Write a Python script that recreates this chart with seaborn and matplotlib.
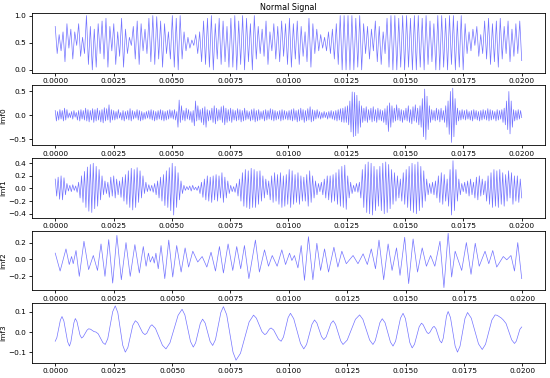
import numpy as np
import matplotlib
matplotlib.use('Agg')
import matplotlib.pyplot as plt
from matplotlib.ticker import MultipleLocator
import seaborn as sns

# ---- data (times in ms) ----
panel_labels = ['', 'imf0', 'imf1', 'imf2', 'imf3']
tick_steps = [0.5, 0.5, 0.2, 0.2, 0.1]
title = 'Normal Signal'

# normalised signal, alternating local maxima / minima, 15 per 2.5 ms
sig_peaks = [0.8, 0.65, 0.7, 0.85, 0.75, 0.7, 0.85, 0.6, 1.0, 0.8, 0.75, 0.85, 0.9, 0.95, 0.8,
             0.85, 0.7, 0.95, 0.75, 0.6, 0.8, 0.9, 0.85, 0.75, 0.95, 1.0, 0.98, 0.9, 0.85, 0.7,
             1.0, 0.95, 1.0, 0.7, 0.6, 0.55, 0.65, 0.7, 0.9, 0.95, 1.0, 0.85, 0.95, 0.9, 0.8,
             0.95, 1.0, 0.9, 1.0, 0.95, 0.85, 1.0, 0.8, 0.75, 0.9, 0.7, 0.85, 0.8, 0.9, 0.85,
             0.95, 0.85, 0.9, 0.8, 0.7, 0.95, 0.85, 0.75, 0.65, 0.6, 0.7, 0.75, 0.85, 1.0, 1.0,
             1.0, 1.0, 0.95, 1.0, 0.85, 0.8, 0.75, 0.9, 0.8, 0.7, 0.95, 1.0, 1.0, 0.95, 1.0,
             1.0, 0.95, 1.0, 1.0, 0.95, 1.0, 0.9, 0.85, 1.0, 1.0, 0.95, 1.0, 1.0, 0.9, 1.0,
             0.85, 0.7, 0.75, 0.8, 0.65, 0.9, 0.95, 0.85, 0.9, 0.95, 0.8, 0.9, 0.75, 0.85, 0.9]
sig_troughs = [0.3, 0.35, 0.15, 0.4, 0.2, 0.45, 0.25, 0.3, 0.1, 0.0, 0.05, 0.3, 0.2, 0.05, 0.35,
               0.1, 0.25, 0.05, 0.3, 0.45, 0.2, 0.1, 0.35, 0.3, 0.15, 0.1, 0.2, 0.05, 0.3, 0.2,
               0.05, 0.0, 0.2, 0.35, 0.4, 0.45, 0.3, 0.15, 0.1, 0.05, 0.0, 0.2, 0.1, 0.15, 0.05,
               0.05, 0.0, 0.1, 0.0, 0.15, 0.0, 0.2, 0.3, 0.25, 0.1, 0.35, 0.2, 0.15, 0.25, 0.1,
               0.05, 0.2, 0.1, 0.25, 0.15, 0.05, 0.3, 0.35, 0.4, 0.35, 0.3, 0.2, 0.1, 0.0, 0.0,
               0.0, 0.0, 0.05, 0.0, 0.3, 0.2, 0.35, 0.15, 0.1, 0.3, 0.05, 0.0, 0.0, 0.05, 0.0,
               0.05, 0.0, 0.0, 0.05, 0.0, 0.1, 0.15, 0.0, 0.0, 0.05, 0.0, 0.1, 0.0, 0.05, 0.0,
               0.3, 0.35, 0.45, 0.25, 0.3, 0.2, 0.1, 0.15, 0.05, 0.2, 0.3, 0.15, 0.25, 0.3, 0.17]

# imf0, 25 maxima / minima per 2.5 ms
imf0_peaks = [0.1, 0.08, 0.12, 0.1, 0.15, 0.12, 0.05, 0.08, 0.1, 0.06, 0.1, 0.12, 0.1, 0.15, 0.12, 0.1, 0.14, 0.12, 0.15, 0.1, 0.12, 0.16, 0.14, 0.22, 0.12,
              0.1, 0.08, 0.12, 0.06, 0.1, 0.08, 0.1, 0.14, 0.1, 0.08, 0.12, 0.1, 0.08, 0.06, 0.08, 0.1, 0.12, 0.1, 0.08, 0.1, 0.12, 0.1, 0.08, 0.1, 0.12,
              0.1, 0.12, 0.08, 0.32, 0.2, 0.1, 0.15, 0.12, 0.08, 0.1, 0.3, 0.2, 0.12, 0.15, 0.18, 0.12, 0.1, 0.15, 0.2, 0.15, 0.12, 0.18, 0.2, 0.15, 0.12,
              0.15, 0.12, 0.1, 0.14, 0.12, 0.1, 0.15, 0.1, 0.08, 0.12, 0.14, 0.1, 0.12, 0.08, 0.1, 0.12, 0.1, 0.14, 0.12, 0.1, 0.08, 0.1, 0.12, 0.1, 0.08,
              0.1, 0.12, 0.14, 0.1, 0.12, 0.15, 0.12, 0.1, 0.14, 0.18, 0.12, 0.1, 0.12, 0.08, 0.06, 0.08, 0.06, 0.08, 0.1, 0.08, 0.1, 0.12, 0.14, 0.15, 0.18,
              0.2, 0.3, 0.49, 0.48, 0.42, 0.3, 0.2, 0.15, 0.18, 0.12, 0.15, 0.18, 0.12, 0.15, 0.12, 0.1, 0.14, 0.2, 0.26, 0.2, 0.15, 0.22, 0.15, 0.12, 0.1,
              0.15, 0.2, 0.12, 0.18, 0.22, 0.15, 0.2, 0.35, 0.55, 0.4, 0.2, 0.12, 0.1, 0.15, 0.12, 0.15, 0.1, 0.2, 0.3, 0.5, 0.57, 0.35, 0.15, 0.1, 0.12,
              0.1, 0.12, 0.08, 0.1, 0.12, 0.1, 0.08, 0.1, 0.12, 0.1, 0.14, 0.12, 0.1, 0.08, 0.12, 0.1, 0.12, 0.15, 0.3, 0.5, 0.3, 0.12, 0.1, 0.12, 0.1]
imf0_troughs = [-0.12, -0.1, -0.08, -0.12, -0.1, -0.06, -0.05, -0.08, -0.04, -0.1, -0.12, -0.08, -0.1, -0.12, -0.14, -0.1, -0.15, -0.12, -0.1, -0.14, -0.16, -0.12, -0.1, -0.15, -0.1,
                -0.1, -0.08, -0.06, -0.1, -0.12, -0.08, -0.1, -0.12, -0.08, -0.06, -0.1, -0.12, -0.1, -0.08, -0.06, -0.08, -0.1, -0.12, -0.1, -0.08, -0.1, -0.12, -0.1, -0.08, -0.06,
                -0.08, -0.1, -0.25, -0.15, -0.1, -0.12, -0.08, -0.1, -0.15, -0.22, -0.12, -0.1, -0.15, -0.2, -0.25, -0.12, -0.1, -0.15, -0.18, -0.12, -0.1, -0.15, -0.2, -0.15, -0.12,
                -0.15, -0.1, -0.12, -0.1, -0.14, -0.12, -0.1, -0.08, -0.12, -0.1, -0.14, -0.12, -0.1, -0.08, -0.12, -0.1, -0.08, -0.1, -0.12, -0.1, -0.08, -0.12, -0.1, -0.08, -0.1,
                -0.1, -0.12, -0.1, -0.14, -0.12, -0.1, -0.15, -0.12, -0.1, -0.14, -0.12, -0.08, -0.06, -0.08, -0.06, -0.05, -0.08, -0.06, -0.08, -0.1, -0.12, -0.1, -0.14, -0.15, -0.15,
                -0.2, -0.35, -0.45, -0.43, -0.38, -0.25, -0.15, -0.12, -0.15, -0.1, -0.14, -0.12, -0.15, -0.1, -0.12, -0.15, -0.2, -0.34, -0.25, -0.15, -0.12, -0.1, -0.12, -0.15, -0.1,
                -0.12, -0.15, -0.18, -0.12, -0.15, -0.2, -0.25, -0.45, -0.51, -0.3, -0.15, -0.1, -0.12, -0.1, -0.14, -0.1, -0.15, -0.25, -0.4, -0.57, -0.45, -0.2, -0.12, -0.1, -0.08,
                -0.1, -0.08, -0.1, -0.12, -0.08, -0.1, -0.12, -0.1, -0.08, -0.1, -0.12, -0.1, -0.08, -0.12, -0.1, -0.08, -0.15, -0.2, -0.3, -0.39, -0.25, -0.12, -0.1, -0.08, -0.05]

# imf1, 20 maxima / minima per 2.5 ms
imf1_peaks = [0.15, 0.18, 0.2, 0.17, 0.08, 0.05, 0.06, 0.04, 0.1, 0.2, 0.27, 0.34, 0.38, 0.4, 0.35, 0.3, 0.2, 0.12, 0.1, 0.18,
              0.2, 0.15, 0.12, 0.18, 0.22, 0.28, 0.32, 0.3, 0.33, 0.28, 0.2, 0.1, 0.06, 0.05, 0.08, 0.12, 0.18, 0.22, 0.28, 0.33,
              0.4, 0.35, 0.25, 0.12, 0.05, 0.03, 0.04, 0.05, 0.02, 0.04, 0.1, 0.15, 0.2, 0.18, 0.2, 0.22, 0.2, 0.25, 0.18, 0.12,
              0.05, 0.03, 0.08, 0.15, 0.25, 0.3, 0.28, 0.32, 0.3, 0.27, 0.28, 0.2, 0.15, 0.12, 0.2, 0.25, 0.22, 0.25, 0.2, 0.22,
              0.3, 0.28, 0.22, 0.25, 0.2, 0.18, 0.22, 0.28, 0.2, 0.12, 0.08, 0.1, 0.15, 0.2, 0.2, 0.22, 0.25, 0.3, 0.35, 0.37,
              0.2, 0.1, 0.05, 0.08, 0.1, 0.3, 0.38, 0.42, 0.4, 0.35, 0.3, 0.35, 0.4, 0.42, 0.38, 0.3, 0.25, 0.2, 0.15, 0.25,
              0.3, 0.35, 0.4, 0.38, 0.42, 0.35, 0.28, 0.15, 0.08, 0.1, 0.12, 0.2, 0.25, 0.22, 0.15, 0.3, 0.44, 0.3, 0.15, 0.08,
              0.1, 0.12, 0.15, 0.1, 0.18, 0.2, 0.15, 0.12, 0.2, 0.25, 0.3, 0.28, 0.3, 0.25, 0.22, 0.28, 0.25, 0.2, 0.2, 0.15]
imf1_troughs = [-0.12, -0.17, -0.18, -0.1, -0.04, -0.05, -0.03, -0.06, -0.15, -0.22, -0.3, -0.36, -0.38, -0.32, -0.28, -0.18, -0.1, -0.08, -0.14, -0.12,
                -0.15, -0.1, -0.14, -0.2, -0.25, -0.3, -0.34, -0.3, -0.22, -0.15, -0.08, -0.05, -0.04, -0.06, -0.1, -0.15, -0.2, -0.27, -0.3, -0.35,
                -0.42, -0.3, -0.18, -0.08, -0.03, -0.02, -0.04, -0.02, -0.03, -0.08, -0.14, -0.18, -0.2, -0.22, -0.18, -0.2, -0.15, -0.22, -0.15, -0.08,
                -0.05, -0.06, -0.12, -0.2, -0.28, -0.3, -0.32, -0.3, -0.3, -0.25, -0.2, -0.15, -0.1, -0.18, -0.22, -0.2, -0.25, -0.3, -0.28, -0.25,
                -0.3, -0.25, -0.22, -0.25, -0.2, -0.2, -0.28, -0.22, -0.15, -0.1, -0.05, -0.1, -0.15, -0.18, -0.22, -0.2, -0.25, -0.28, -0.3, -0.33,
                -0.15, -0.08, -0.05, -0.06, -0.15, -0.3, -0.38, -0.4, -0.42, -0.35, -0.28, -0.35, -0.4, -0.38, -0.32, -0.25, -0.2, -0.15, -0.2, -0.25,
                -0.3, -0.35, -0.38, -0.4, -0.35, -0.3, -0.2, -0.1, -0.08, -0.1, -0.15, -0.22, -0.25, -0.2, -0.28, -0.42, -0.35, -0.2, -0.1, -0.05,
                -0.08, -0.12, -0.1, -0.15, -0.18, -0.12, -0.1, -0.2, -0.25, -0.3, -0.28, -0.3, -0.25, -0.28, -0.2, -0.15, -0.25, -0.2, -0.22, -0.15]

# imf2 extrema (time ms, value)
imf2_t = [0, 0.21, 0.46, 0.6, 0.7, 0.77, 0.89, 1.03, 1.23, 1.43, 1.63, 1.81, 1.96, 2.13, 2.29, 2.46, 2.64, 2.83, 3.03, 3.21,
          3.41, 3.6, 3.77, 3.89, 3.99, 4.07, 4.17, 4.24, 4.31, 4.41, 4.53, 4.69, 4.86, 5.03, 5.2, 5.39, 5.56, 5.71, 5.89, 6.1,
          6.29, 6.49, 6.67, 6.86, 7.03, 7.2, 7.4, 7.6, 7.77, 7.94, 8.1, 8.29, 8.57, 8.74, 8.96, 9.13, 9.29,
          9.5, 9.7, 9.86, 10.03, 10.13, 10.24, 10.39, 10.53, 10.67, 10.84, 11.03, 11.2, 11.36, 11.53, 11.7, 11.93, 12.1, 12.27, 12.46, 12.75,
          12.96, 13.18, 13.36, 13.53, 13.71, 13.86, 14.06, 14.25, 14.42, 14.61, 14.76, 14.96, 15.13, 15.32, 15.51, 15.71, 15.89, 16.07, 16.25, 16.47,
          16.64, 16.82, 16.97, 17.12, 17.4, 17.6, 17.8, 17.98, 18.15, 18.4, 18.56, 18.73, 18.9, 19.18, 19.33, 19.51, 19.66, 19.8, 19.97]
imf2_v = [0.075, -0.137, 0.125, -0.06, 0.035, -0.05, 0.106, -0.2, 0.216, -0.12, 0.047, -0.13, 0.184, -0.2, 0.235, -0.28, 0.286, -0.24, 0.2, -0.2,
          0.176, -0.16, 0.153, -0.08, 0.075, -0.03, 0.035, -0.043, 0.075, -0.11, 0.165, -0.227, 0.23, -0.208, 0.165, -0.149, 0.137, -0.09, 0.098, -0.03,
          0.035, -0.09, 0.086, -0.137, 0.153, -0.16, 0.184, -0.13, 0.153, -0.11, 0.165, -0.227, 0.23, -0.149, 0.114, -0.08, 0.047,
          -0.08, 0.114, -0.06, 0.075, -0.012, 0.047, -0.1, 0.165, -0.247, 0.27, -0.24, 0.192, -0.13, 0.125, -0.149, 0.145, -0.09, 0.098, -0.05, 0.047,
          -0.05, 0.067, -0.06, 0.125, -0.11, 0.23, -0.24, 0.184, -0.13, 0.137, -0.188, 0.263, -0.286, 0.243, -0.149, 0.137, -0.08, 0.047, -0.08, 0.216,
          -0.333, 0.31, -0.208, 0.098, -0.13, 0.2, -0.176, 0.192, -0.08, 0.098, -0.05, 0.106, -0.09, 0.035, -0.004, 0.047, -0.137, 0.2, -0.227]

# imf3 curve readings (time ms, value): extrema plus shoulder points
imf3_t = [0,
          0.07, 0.22, 0.29, 0.37, 0.53, 0.61, 0.67, 0.80, 0.86, 0.93, 1.06, 1.13, 1.2, 1.36, 1.43,
          1.51, 1.66, 1.74, 1.84, 2.04, 2.14, 2.25, 2.46, 2.57, 2.68, 2.89, 3.0, 3.11, 3.32, 3.43,
          3.53, 3.74, 3.84, 3.92, 4.07, 4.14, 4.29, 4.59, 4.74, 4.91, 5.26, 5.43, 5.55, 5.79, 5.91,
          6.01, 6.21, 6.31, 6.42, 6.63, 6.74, 6.86, 7.09, 7.2, 7.34, 7.61, 7.74, 7.93, 8.3, 8.49,
          8.61, 8.85, 8.97, 9.04, 9.17, 9.24, 9.35, 9.56, 9.67, 9.77, 9.97, 10.07, 10.21, 10.5, 10.64,
          10.76, 10.99, 11.1, 11.2, 11.4, 11.5, 11.6, 11.8, 11.9, 12.0, 12.22, 12.32, 12.5, 12.85, 13.03,
          13.17, 13.46, 13.6, 13.7, 13.9, 14.0, 14.12, 14.35, 14.46, 14.57, 14.78, 14.89, 14.99, 15.18, 15.28,
          15.38, 15.58, 15.68, 15.75, 15.9, 15.97, 16.03, 16.16, 16.22, 16.3, 16.46, 16.54, 16.61, 16.75, 16.82,
          16.92, 17.12, 17.22, 17.33, 17.54, 17.65, 17.81, 18.12, 18.28, 18.42, 18.69, 18.83, 18.92, 19.09, 19.18,
          19.3, 19.54, 19.66, 19.74, 19.89, 19.97]
imf3_v = [-0.046,
          -0.028, 0.059, 0.077, 0.055, -0.048, -0.07, -0.049, 0.046, 0.067, 0.052, -0.015, -0.03, -0.023, 0.009, 0.016,
          0.014, 0.002, 0.0, -0.009, -0.053, -0.062, -0.033, 0.101, 0.13, 0.096, -0.066, -0.1, -0.077, 0.033, 0.056,
          0.046, -0.003, -0.013, -0.006, 0.029, 0.036, 0.018, -0.066, -0.084, -0.054, 0.083, 0.113, 0.085, -0.047, -0.075,
          -0.054, 0.043, 0.064, 0.044, -0.047, -0.067, -0.038, 0.097, 0.126, 0.086, -0.1, -0.14, -0.106, 0.05, 0.084,
          0.069, 0.002, -0.013, -0.008, 0.015, 0.02, 0.01, -0.036, -0.046, -0.025, 0.072, 0.093, 0.066, -0.057, -0.084,
          -0.062, 0.038, 0.06, 0.045, -0.023, -0.038, -0.024, 0.042, 0.056, 0.038, -0.044, -0.062, -0.04, 0.063, 0.085,
          0.063, -0.04, -0.062, -0.043, 0.047, 0.066, 0.046, -0.05, -0.07, -0.046, 0.069, 0.093, 0.067, -0.053, -0.079,
          -0.061, 0.026, 0.044, 0.036, 0.0, -0.008, -0.003, 0.023, 0.028, 0.016, -0.042, -0.054, -0.031, 0.079, 0.102,
          0.072, -0.07, -0.1, -0.07, 0.067, 0.097, 0.069, -0.059, -0.087, -0.061, 0.059, 0.085, 0.083, 0.07, 0.06,
          0.042, -0.039, -0.057, -0.045, 0.013, 0.025]


def zigzag(peaks, troughs):
    v = np.empty(2 * len(peaks))
    v[0::2] = peaks
    v[1::2] = troughs
    return v


sig = zigzag(sig_peaks, sig_troughs)
imf0 = zigzag(imf0_peaks, imf0_troughs)
imf1 = zigzag(imf1_peaks, imf1_troughs)
series = [
    (np.linspace(0, 0.02, len(sig)), sig),
    (np.linspace(0, 0.02, len(imf0)), imf0),
    (np.linspace(0, 0.02, len(imf1)), imf1),
    (np.array(imf2_t) / 1000, np.array(imf2_v)),
    (np.array(imf3_t) / 1000, np.array(imf3_v)),
]

plt.rcParams['font.family'] = ['DejaVu Sans']
fig, axes = plt.subplots(5, 1, figsize=(5.5, 3.78), dpi=100)
fig.subplots_adjust(left=0.058, right=0.991, top=0.966, bottom=0.04, hspace=0.215)

for ax, (t, v), lab, step in zip(axes, series, panel_labels, tick_steps):
    sns.lineplot(x=t, y=v, ax=ax, color='blue', linewidth=0.5, alpha=0.55)
    ax.yaxis.set_major_locator(MultipleLocator(step))
    ax.set_ylabel(lab, fontsize=5.3, labelpad=1.5)
    ax.tick_params(labelsize=5.3, length=2.5, width=0.6, pad=1.5)
    for s in ax.spines.values():
        s.set_linewidth(0.6)

axes[0].set_title(title, fontsize=5.8, pad=2)

fig.savefig('out.png', dpi=100)
